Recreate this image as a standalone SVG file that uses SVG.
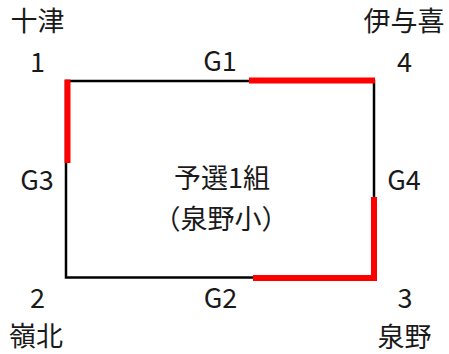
<svg xmlns="http://www.w3.org/2000/svg" width="449" height="354" viewBox="0 0 449 354">
<style>
text { font-family: "Noto Sans CJK JP", "Noto Sans", sans-serif; font-size: 27px; fill: #1a1a1a; text-anchor: middle; }
.blk { stroke: #000; stroke-width: 2.5; fill: none; }
.red { stroke: #ff0000; stroke-width: 6; fill: none; stroke-linecap: butt; }
</style>
<rect width="449" height="354" fill="#fff"/>
<g id="connectors">
  <rect class="blk" x="66" y="81" width="308" height="196.5"/>
  <line class="red" x1="249" y1="80.5" x2="375" y2="80.5"/>
  <line class="red" x1="67.5" y1="79.5" x2="67.5" y2="163"/>
  <line class="red" x1="374" y1="197" x2="374" y2="281"/>
  <line class="red" x1="253" y1="278" x2="377" y2="278"/>
  <text x="220" y="71">G1</text>
  <text x="37" y="190">G3</text>
  <text x="404" y="190">G4</text>
  <text x="220.5" y="308">G2</text>
</g>
<g id="node1">
  <text x="37.5" y="31">十津</text>
  <text x="37.5" y="72">1</text>
</g>
<g id="node4">
  <text x="404" y="31">伊与喜</text>
  <text x="404.5" y="72">4</text>
</g>
<g id="node2">
  <text x="37.5" y="308">2</text>
  <text x="36" y="346">嶺北</text>
</g>
<g id="node3">
  <text x="405" y="308">3</text>
  <text x="404.5" y="347">泉野</text>
</g>
<g id="center">
  <text x="222" y="188">予選1組</text>
  <text x="221" y="229">（泉野小）</text>
</g>
</svg>
